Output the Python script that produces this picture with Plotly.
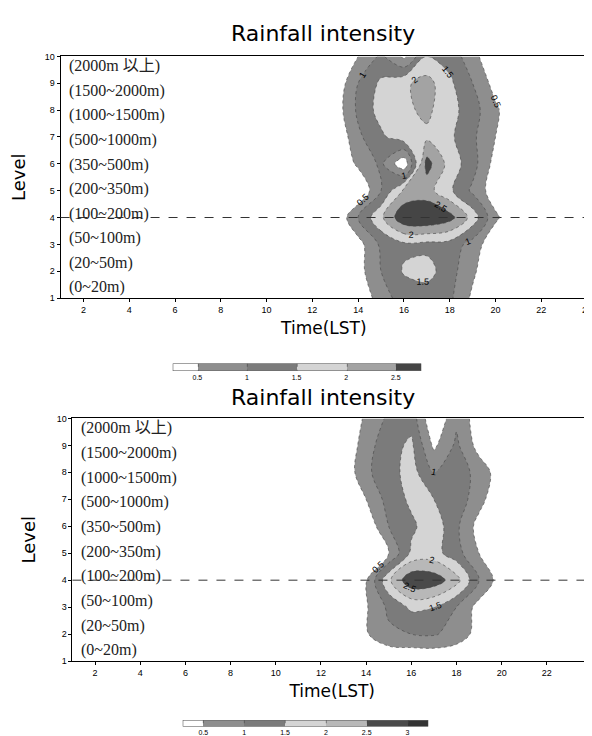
import plotly.graph_objects as go

hours = list(range(1, 25))
levels = list(range(1, 11))

# values for hours 13..21 (others zero), rows = levels 1..10
top_core = [
    [0, 0, 0.8, 1.2, 1.2, 1.1, 0.4, 0, 0],
    [0, 0.3, 1.0, 1.55, 1.7, 1.2, 0.6, 0, 0],
    [0, 0.3, 1.1, 1.4, 1.35, 1.3, 0.8, 0.1, 0],
    [0, 1.0, 1.9, 2.9, 3.0, 2.7, 1.8, 0.6, 0],
    [0, 0, 1.0, 2.1, 2.2, 1.6, 0.9, 0.2, 0],
    [0, 0.6, 1.1, 0.1, 2.7, 1.8, 1.2, 0.3, 0],
    [0, 0.9, 1.4, 1.8, 1.9, 1.6, 1.1, 0.5, 0],
    [0.2, 1.1, 1.7, 1.9, 2.1, 1.7, 1.2, 0.6, 0],
    [0.1, 1.0, 1.6, 1.9, 2.2, 1.6, 1.0, 0.3, 0],
    [0, 0.5, 1.1, 0.4, 1.5, 1.3, 0.7, 0, 0],
]
bot_core = [
    [0, 0, 0, 0, 0, 0, 0, 0, 0],
    [0, 0.45, 0.9, 1.0, 1.05, 0.8, 0.3, 0, 0],
    [0, 0.45, 1.1, 1.6, 1.5, 1.0, 0.3, 0, 0],
    [0, 0.45, 1.9, 2.9, 2.8, 2.2, 1.0, 0.2, 0],
    [0, 0, 0.5, 1.6, 1.7, 1.2, 0.5, 0, 0],
    [0, 0.1, 1.0, 1.4, 1.8, 1.1, 0.3, 0, 0],
    [0, 0.5, 1.2, 1.6, 1.5, 1.3, 0.7, 0, 0],
    [0.1, 0.9, 1.3, 1.7, 1.0, 1.3, 0.8, 0.2, 0],
    [0, 0.8, 1.3, 1.6, 0.4, 1.1, 0.3, 0, 0],
    [0, 0.6, 1.1, 1.3, 0.0, 0.9, 0.2, 0, 0],
]
top_z = [[0] * 12 + r + [0] * 3 for r in top_core]
bot_z = [[0] * 12 + r + [0] * 3 for r in bot_core]

height_labels = ["(2000m 以上)", "(1500~2000m)", "(1000~1500m)", "(500~1000m)",
                 "(350~500m)", "(200~350m)", "(100~200m)", "(50~100m)",
                 "(20~50m)", "(0~20m)"]
top_ticks = [0.5, 1, 1.5, 2, 2.5]
bot_ticks = [0.5, 1, 1.5, 2, 2.5, 3]

top_colors = ['#ffffff', '#8e8e8e', '#7b7b7b', '#d4d4d4', '#a3a3a3', '#454545']
bot_colors = ['#ffffff', '#8e8e8e', '#7b7b7b', '#d4d4d4', '#b8b8b8', '#4a4a4a', '#333333']


def cscale(cols):
    n = len(cols) - 1
    return [[i / n, c] for i, c in enumerate(cols)]


fig = go.Figure()

fig.add_trace(go.Contour(
    x=hours, y=levels, z=top_z, xaxis='x', yaxis='y',
    contours=dict(start=0.5, end=2.5, size=0.5, coloring='fill', showlabels=True,
                  labelfont=dict(size=9, color='#000', family='Liberation Sans')),
    colorscale=cscale(top_colors),
    line=dict(color='#444', width=0.6, dash='dot'),
    colorbar=dict(orientation='h', x=291 / 592, xanchor='center', y=1 - 363 / 736, yanchor='middle',
                  lenmode='pixels', len=248, thickness=7, outlinewidth=0.5, tickvals=top_ticks,
                  tickfont=dict(size=7, family='Liberation Sans', color='#000'), ticks='', ypad=0, xpad=0),
))
fig.add_trace(go.Contour(
    x=hours, y=levels, z=bot_z, xaxis='x2', yaxis='y2',
    contours=dict(start=0.5, end=3, size=0.5, coloring='fill', showlabels=True,
                  labelfont=dict(size=9, color='#000', family='Liberation Sans')),
    colorscale=cscale(bot_colors),
    line=dict(color='#444', width=0.6, dash='dot'),
    colorbar=dict(orientation='h', x=300 / 592, xanchor='center', y=1 - 724 / 736, yanchor='middle',
                  lenmode='pixels', len=245, thickness=6, outlinewidth=0.5, tickvals=bot_ticks,
                  tickfont=dict(size=7, family='Liberation Sans', color='#000'), ticks='', ypad=0, xpad=0),
))

axis_common = dict(showline=True, mirror=True, linecolor='#000', linewidth=1,
                   ticks='outside', ticklen=3, tickwidth=1, tickcolor='#000',
                   showgrid=False, zeroline=False,
                   tickfont=dict(size=9, family='Liberation Sans', color='#000'))
xt = dict(range=[1, 24], tickvals=list(range(2, 25, 2)),
          title=dict(text='Time(LST)', font=dict(size=17, family='DejaVu Sans', color='#000'), standoff=8))
yt = dict(range=[1, 10], tickvals=levels,
          title=dict(text='Level', font=dict(size=18, family='DejaVu Sans', color='#000'), standoff=16))

fig.update_layout(
    width=592, height=736, margin=dict(l=0, r=0, t=0, b=0),
    paper_bgcolor='white', plot_bgcolor='white', showlegend=False,
    xaxis=dict(domain=[53 / 592, 584 / 592], anchor='y', **xt, **axis_common),
    yaxis=dict(domain=[1 - 289 / 736, 1 - 44 / 736], anchor='x', **yt, **axis_common),
    xaxis2=dict(domain=[65 / 592, 589 / 592], anchor='y2', **xt, **axis_common),
    yaxis2=dict(domain=[1 - 657 / 736, 1 - 411 / 736], anchor='x2', **yt, **axis_common),
)

annotations = []
for title_y in (1 - 21 / 736, 1 - 390 / 736):
    annotations.append(dict(text='Rainfall intensity', xref='paper', yref='paper', x=0.537, y=title_y,
                            showarrow=False, xanchor='center', yanchor='middle',
                            font=dict(size=22, family='DejaVu Sans', color='#000')))
n = len(height_labels)
for yref in ('y', 'y2'):
    xref = 'x' if yref == 'y' else 'x2'
    for i, t in enumerate(height_labels):
        annotations.append(dict(text=t, xref=xref, yref=yref, x=1.3, y=9.63 - i * (9.63 - 1.4) / (n - 1),
                                showarrow=False, xanchor='left', yanchor='middle',
                                font=dict(size=16, family='Liberation Serif, Noto Sans CJK TC', color='#222')))
fig.update_layout(annotations=annotations)

for xr, yr in (('x', 'y'), ('x2', 'y2')):
    fig.add_shape(type='line', xref=f'{xr} domain', yref=yr, x0=0, x1=1, y0=4, y1=4,
                  line=dict(color='#333', width=1, dash='dash'))

fig.write_html("out.html")
